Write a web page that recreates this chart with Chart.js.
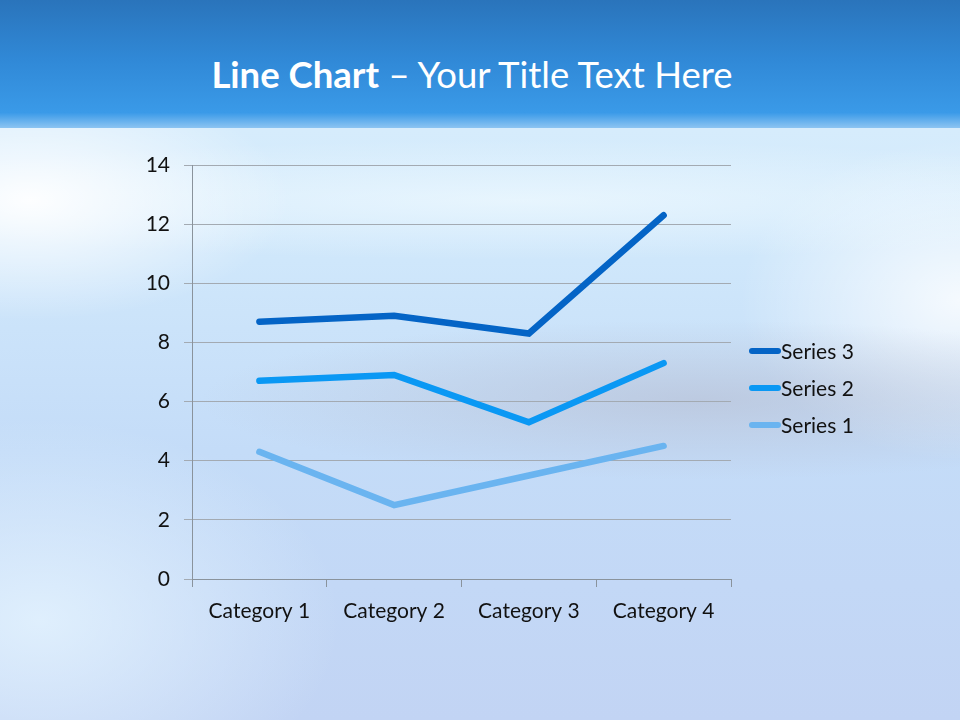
<!DOCTYPE html>
<html>
<head>
<meta charset="utf-8">
<script src="https://cdn.jsdelivr.net/npm/chart.js@4"></script>
<style>
  html, body { margin: 0; padding: 0; }
  body {
    width: 960px; height: 720px; overflow: hidden; position: relative;
    font-family: Lato, "Open Sans", sans-serif;
    background:
      radial-gradient(ellipse 260px 120px at 30px 200px, rgba(255,255,255,0.95), rgba(255,255,255,0) 100%),
      radial-gradient(ellipse 700px 60px at 520px 200px, rgba(240,250,255,0.7), rgba(240,250,255,0) 100%),
      radial-gradient(ellipse 500px 80px at 700px 400px, rgba(180,185,205,0.55), rgba(180,185,205,0) 100%),
      radial-gradient(ellipse 300px 200px at 40px 620px, rgba(230,245,255,0.8), rgba(230,245,255,0) 100%),
      radial-gradient(ellipse 220px 160px at 960px 300px, rgba(255,255,255,0.8), rgba(255,255,255,0) 100%),
      linear-gradient(to bottom, #d6ecfc 130px, #cfe7fb 260px, #c4dcf8 450px, #c2d4f4 720px);
  }
  #header {
    position: absolute; left: 0; top: 0; width: 960px; height: 128px;
    background: linear-gradient(to bottom, #2a74bb 0%, #3088d6 45%, #3a9ae8 88%, #8cc4f2 100%);
  }
  #title {
    position: absolute; left: 0; top: 53px; width: 944px; text-align: center;
    color: #fff; font-size: 36.5px; line-height: 42px; white-space: nowrap;
  }
  #title b { font-weight: 700; }
  #chartBox { position: absolute; left: 0; top: 0; width: 960px; height: 720px; }
  #legend { position: absolute; left: 749px; top: 332px; color: #111; font-size: 21px; }
  .item { height: 37px; line-height: 26px; display: flex; align-items: center; }
  .item span.mark { display: inline-block; width: 32px; height: 6px; border-radius: 3px; margin-right: 0px; }
</style>
</head>
<body>
<div id="header"></div>
<div id="title"><b>Line Chart</b> – Your Title Text Here</div>
<div id="chartBox"><canvas id="myChart" width="960" height="720"></canvas></div>
<div id="legend"></div>
<script>
  const categories = ["Category 1", "Category 2", "Category 3", "Category 4"];
  const series1 = [4.3, 2.5, 3.5, 4.5];
  const series2 = [6.7, 6.9, 5.3, 7.3];
  const series3 = [8.7, 8.9, 8.3, 12.3];
  const seriesNames = ["Series 1", "Series 2", "Series 3"];
  const seriesColors = ["#6ab4f0", "#0a98f4", "#0464c6"];
  const yTicks = [0, 2, 4, 6, 8, 10, 12, 14];

  const allSeries = [series1, series2, series3];
  const datasets = allSeries.map(function (vals, i) {
    return {
      label: seriesNames[i],
      data: vals,
      borderColor: seriesColors[i],
      backgroundColor: seriesColors[i],
      borderWidth: 6.5,
      borderCapStyle: "round",
      pointRadius: 0,
      tension: 0,
      fill: false
    };
  });

  const ctx = document.getElementById("myChart").getContext("2d");
  const chart = new Chart(ctx, {
    type: "line",
    data: { labels: categories, datasets: datasets },
    options: {
      responsive: false,
      animation: false,
      layout: { padding: { top: 165, right: 229, left: 0, bottom: 0 } },
      plugins: { legend: { display: false }, tooltip: { enabled: false } },
      scales: {
        x: {
          offset: true,
          grid: { offset: true, drawOnChartArea: false, drawTicks: true, tickLength: 8, color: "#8a939c" },
          border: { color: "#8a939c", width: 1 },
          ticks: { color: "#111", font: { family: "Lato", size: 21 }, padding: 12, maxRotation: 0 },
          afterFit: function (s) { s.height = 141; }
        },
        y: {
          min: 0, max: 14,
          afterBuildTicks: function (s) { s.ticks = yTicks.map(function (v) { return { value: v }; }); },
          grid: { color: "#a3aab2", tickLength: 8, drawTicks: true },
          border: { color: "#8a939c", width: 1 },
          ticks: { color: "#111", font: { family: "Lato", size: 21 }, padding: 14 },
          afterFit: function (s) { s.width = 192; }
        }
      }
    }
  });

  // legend, top to bottom reversed like the original
  const legend = document.getElementById("legend");
  for (let i = seriesNames.length - 1; i >= 0; i--) {
    const row = document.createElement("div");
    row.className = "item";
    const mark = document.createElement("span");
    mark.className = "mark";
    mark.style.background = seriesColors[i];
    row.appendChild(mark);
    row.appendChild(document.createTextNode(seriesNames[i]));
    legend.appendChild(row);
  }
</script>
</body>
</html>
